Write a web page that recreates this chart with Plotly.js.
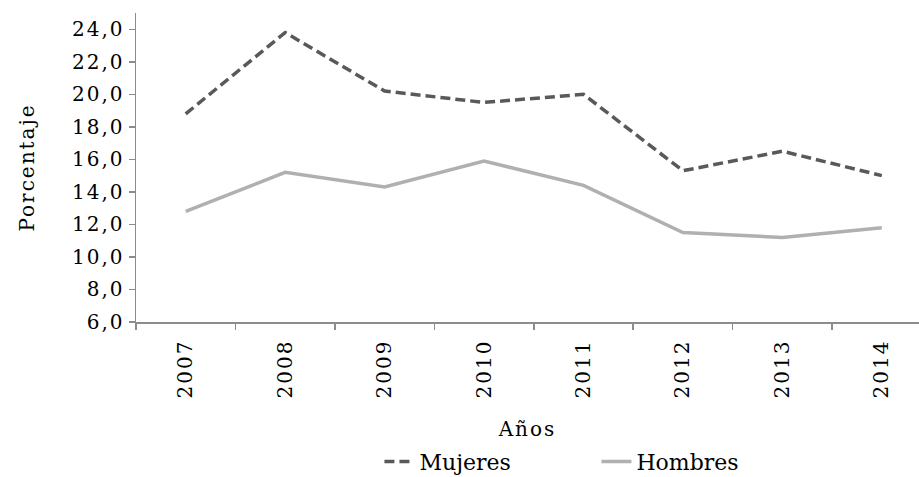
<!DOCTYPE html>
<html>
<head>
<meta charset="utf-8">
<script src="https://cdn.plot.ly/plotly-3.0.1.min.js"></script>
<style>
html, body { margin: 0; padding: 0; background: #fff; }
#chart .xtick text, #chart .ytick text, #chart .g-xtitle text, #chart .g-ytitle text { letter-spacing: 2px; }
</style>
</head>
<body>
<div id="chart" style="width:919px;height:477px;"></div>
<script>
const years = ["2007", "2008", "2009", "2010", "2011", "2012", "2013", "2014"];
const mujeres = [18.8, 23.8, 20.2, 19.5, 20.0, 15.3, 16.5, 15.0];
const hombres = [12.8, 15.2, 14.3, 15.9, 14.4, 11.5, 11.2, 11.8];
const yTickVals = [6, 8, 10, 12, 14, 16, 18, 20, 22, 24];
const yTickText = yTickVals.map(v => v.toFixed(1).replace(".", ","));

const FONT = "DejaVu Serif, serif";

const traces = [
  {
    x: years, y: mujeres, name: "Mujeres", type: "scatter", mode: "lines",
    line: { color: "#595959", width: 3.5, dash: "10px,5px" }
  },
  {
    x: years, y: hombres, name: "Hombres", type: "scatter", mode: "lines",
    line: { color: "#B0B0B0", width: 3.5 }
  }
];

const layout = {
  width: 919, height: 477,
  margin: { l: 136, r: 0, t: 13, b: 155 },
  paper_bgcolor: "#fff", plot_bgcolor: "#fff",
  font: { family: FONT, size: 20, color: "#000" },
  showlegend: true,
  legend: {
    orientation: "h", xref: "container", yref: "container",
    x: 0.649, xanchor: "center", y: 0.032, yanchor: "middle",
    font: { family: FONT, size: 22, color: "#000" },
    entrywidth: 172, entrywidthmode: "pixels"
  },
  xaxis: {
    type: "category",
    range: [-0.5, 7.374],
    showgrid: false, zeroline: false,
    showline: true, linecolor: "#8C8C8C", linewidth: 1.5,
    ticks: "outside", ticklen: 6, tickcolor: "#8C8C8C", tickwidth: 1.5,
    tickson: "boundaries",
    tickangle: -90,
    ticklabelstandoff: 8,
    tickfont: { family: FONT, size: 20, color: "#000" },
    title: { text: "Años", font: { family: FONT, size: 20, color: "#000" }, standoff: 34 }
  },
  yaxis: {
    range: [6, 25],
    tickvals: yTickVals, ticktext: yTickText,
    showgrid: false, zeroline: false,
    showline: true, linecolor: "#8C8C8C", linewidth: 1.5,
    ticks: "outside", ticklen: 6, tickcolor: "#8C8C8C", tickwidth: 1.5,
    tickfont: { family: FONT, size: 20, color: "#000" },
    title: { text: "Porcentaje", font: { family: FONT, size: 20, color: "#000" }, standoff: 40 }
  }
};

Plotly.newPlot("chart", traces, layout, { displayModeBar: false, staticPlot: true });
</script>
</body>
</html>
